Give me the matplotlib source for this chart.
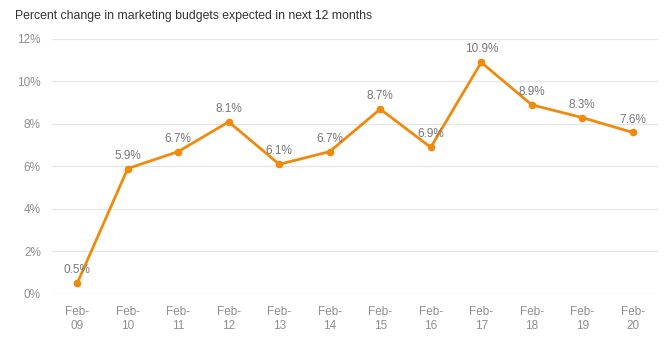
import matplotlib.pyplot as plt
from matplotlib.ticker import FuncFormatter

# === DADOS ===
meses = ["Feb-\n09", "Feb-\n10", "Feb-\n11", "Feb-\n12", "Feb-\n13", "Feb-\n14",
         "Feb-\n15", "Feb-\n16", "Feb-\n17", "Feb-\n18", "Feb-\n19", "Feb-\n20"]
valores = [0.5, 5.9, 6.7, 8.1, 6.1, 6.7, 8.7, 6.9, 10.9, 8.9, 8.3, 7.6]
y_ticks = [0, 2, 4, 6, 8, 10, 12]

LARANJA = '#ef8a0c'
CINZA = '#8f8f8f'

plt.rcParams['font.family'] = ['Liberation Sans', 'DejaVu Sans']

fig = plt.figure(figsize=(6.66, 3.39), dpi=100)
ax = fig.add_axes([0.078, 0.133, 0.91, 0.752])

x = list(range(len(valores)))
ax.plot(x, valores, color=LARANJA, linewidth=2, marker='o', markersize=4.5, zorder=3)

for xi, v in zip(x, valores):
    ax.annotate(f"{v:.1f}%", (xi, v), xytext=(0, 5), textcoords='offset points',
                ha='center', va='bottom', fontsize=8.5, color='#777777', zorder=4)

ax.set_xlim(-0.5, len(valores) - 0.5)
ax.set_ylim(0, 12)
ax.set_yticks(y_ticks)
ax.yaxis.set_major_formatter(FuncFormatter(lambda v, p: f"{v:.0f}%"))
ax.set_xticks(x)
ax.set_xticklabels(meses)
ax.tick_params(axis='both', length=0, labelsize=8.5, labelcolor=CINZA)
ax.tick_params(axis='y', pad=8)
ax.tick_params(axis='x', pad=9)
ax.grid(axis='y', color='#e6e6e6', linewidth=1)
ax.set_axisbelow(True)
for s in ax.spines.values():
    s.set_visible(False)

fig.text(0.023, 0.953, "Percent change in marketing budgets expected in next 12 months",
         fontsize=8.8, color='#333333', va='center', ha='left')

fig.savefig('out.png', dpi=100)
